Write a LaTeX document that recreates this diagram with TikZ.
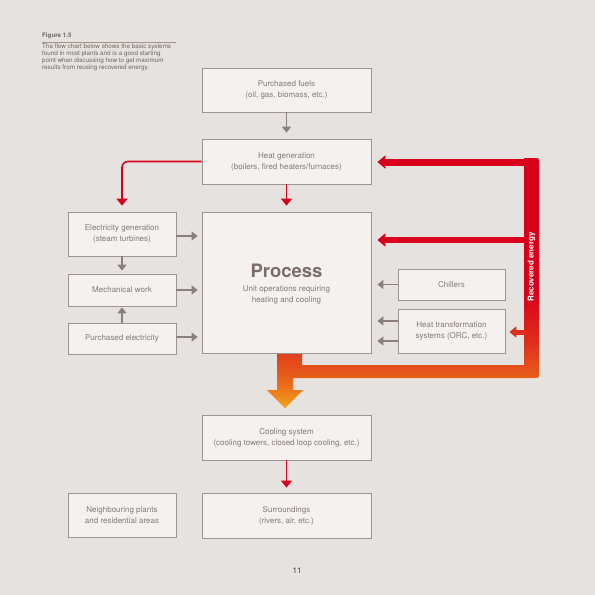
\documentclass[tikz,border=0pt]{standalone}
\usepackage{fontspec}
\setmainfont{TeX Gyre Heros}
\usetikzlibrary{arrows.meta,shadows,calc}
\definecolor{bgcol}{HTML}{E6E2DF}
\definecolor{boxfill}{HTML}{F4F1EF}
\definecolor{boxline}{HTML}{9E9590}
\definecolor{txtcol}{HTML}{857B76}
\definecolor{capcol}{HTML}{6E6560}
\definecolor{proccol}{HTML}{7A6E69}
\definecolor{garrowcol}{HTML}{8A7F79}
\definecolor{redc}{HTML}{D9001B}
\definecolor{redo}{HTML}{DF2F1C}
\definecolor{orgc}{HTML}{E8601A}
\definecolor{yelc}{HTML}{F5A01D}
\pgfdeclareverticalshading{recov}{100bp}{color(0bp)=(yelc); color(25bp)=(yelc); color(31bp)=(orgc); color(38bp)=(redo); color(48bp)=(redc); color(100bp)=(redc)}
\begin{document}
\begin{tikzpicture}[x=1pt,y=-1pt,
 box/.style={draw=boxline, line width=0.8pt, fill=boxfill, inner sep=0pt, align=center, text=txtcol,
   font=\fontsize{8}{11}\selectfont,
   drop shadow={shadow xshift=0.8pt, shadow yshift=-0.9pt, opacity=0.35, fill=black!60}},
 garrow/.style={draw=garrowcol, line width=1.8pt, -{Triangle[width=9pt,length=6pt]}},
 rthin/.style={draw=redc, line width=1.6pt, -{Triangle[width=11pt,length=7pt]}},
 rthick/.style={draw=redc, line width=7pt, -{Triangle[width=13pt,length=8pt]}},
]
\fill[bgcol] (0,0) rectangle (595,595);
\useasboundingbox (0,0) rectangle (595,595);

% recovered energy pipe
\shade[shading=recov] (524,158) -- (534,158) .. controls (539,158) .. (539,163)
  -- (539,373) .. controls (539,378) .. (534,378)
  -- (293,378) -- (293,390) -- (303,390) -- (285,408) -- (267,390) -- (277,390)
  -- (277,352) -- (302,352) -- (302,365) -- (524,365) -- cycle;

% boxes
\node[box, minimum width=169pt, minimum height=44pt] (fuels) at (286.5,90) {Purchased fuels\\(oil, gas, biomass, etc.)};
\node[box, minimum width=169pt, minimum height=45pt] (heatgen) at (286.5,161.5) {Heat generation\\(boilers, fired heaters/furnaces)};
\node[box, minimum width=108pt, minimum height=44pt] (elec) at (122,234) {Electricity generation\\(steam turbines)};
\node[box, minimum width=108pt, minimum height=32pt] (mech) at (122,290) {Mechanical work};
\node[box, minimum width=108pt, minimum height=31pt] (pelec) at (122,338.5) {Purchased electricity};
\node[box, minimum width=169pt, minimum height=141pt] (process) at (286.5,282.5) {};
\node[box, minimum width=107pt, minimum height=31pt] (chillers) at (451.5,284.5) {Chillers};
\node[box, minimum width=107pt, minimum height=44pt] (heattrans) at (451.5,331) {Heat transformation\\systems (ORC, etc.)};
\node[box, minimum width=169pt, minimum height=45pt] (cooling) at (286.5,437.5) {Cooling system\\(cooling towers, closed loop cooling, etc.)};
\node[box, minimum width=169pt, minimum height=45pt] (surround) at (286.5,515.5) {Surroundings\\(rivers, air, etc.)};
\node[box, minimum width=108pt, minimum height=44pt] (neigh) at (122,515) {Neighbouring plants\\and residential areas};

% process text
\node[text=proccol, font=\fontsize{18.5}{20}\selectfont\bfseries, inner sep=0pt] (ptitle) at (286.5,271) {Process};
\node[text=txtcol, font=\fontsize{8}{11}\selectfont, align=center, inner sep=0pt] (psub) at (286.5,294.5) {Unit operations requiring\\heating and cooling};

% recovered energy arrows
\coordinate (rv1) at (530,162);
\coordinate (rv2) at (528,240);
\coordinate (rv3) at (526,332);
\draw[rthick, shorten >=6pt] (rv1) -- (rv1 -| heatgen.east);
\draw[rthick, line width=6.5pt, shorten >=6pt] (rv2) -- (rv2 -| process.east);
\draw[draw=redo, line width=5pt, -{Triangle[width=11pt,length=7pt]}, shorten >=4pt] (rv3) -- (rv3 -| heattrans.east);
\node[rotate=90, text=white, font=\fontsize{8}{9}\selectfont\bfseries, inner sep=0pt] (rectxt) at (531.5,267) {Recovered energy};

% gray arrows
\draw[garrow, shorten >=6pt] (fuels.south) -- (heatgen.north);
\draw[garrow, shorten >=3pt] (elec.south) -- (mech.north);
\draw[garrow, shorten >=1pt] (pelec.north) -- (mech.south);
\coordinate (ea) at ([yshift=-2pt]elec.east);
\draw[garrow, shorten >=4pt] (ea) -- (ea -| process.west);
\draw[garrow, shorten >=4pt] (mech.east) -- (mech.east -| process.west);
\coordinate (pa) at ([yshift=1.5pt]pelec.east);
\draw[garrow, shorten >=4pt] (pa) -- (pa -| process.west);
\draw[garrow, shorten >=6pt] (chillers.west) -- (chillers.west -| process.east);
\coordinate (ht1) at ([yshift=10pt]heattrans.west);
\coordinate (ht2) at ([yshift=-10pt]heattrans.west);
\draw[garrow, shorten >=6pt] (ht1) -- (ht1 -| process.east);
\draw[garrow, shorten >=6pt] (ht2) -- (ht2 -| process.east);

% red thin arrows
\draw[rthin, shorten >=6pt] (heatgen.south) -- (process.north);
\draw[rthin, rounded corners=6pt, shorten >=6pt] (heatgen.west) -| (elec.north);
\draw[rthin, shorten >=5pt] (cooling.south) -- (surround.north);

% caption
\node[anchor=west, inner sep=0pt, font=\fontsize{6.2}{7}\selectfont\bfseries, text=capcol] (figlabel) at (42,36) {Figure 1.5};
\coordinate (capa) at (42,42);
\coordinate (capb) at (176,42);
\draw[boxline, line width=0.6pt] (capa) -- (capb);
\node[anchor=north west, inner sep=0pt, align=left, font=\fontsize{6.3}{7}\selectfont, text=capcol] (captxt) at (42,43.5)
 {The flow chart below shows the basic systems\\found in most plants and is a good starting\\point when discussing how to get maximum\\results from reusing recovered energy.};

% page number
\node[inner sep=0pt, font=\fontsize{8}{9}\selectfont, text=black!75] (pagenum) at (297,571) {11};
\end{tikzpicture}
\end{document}
